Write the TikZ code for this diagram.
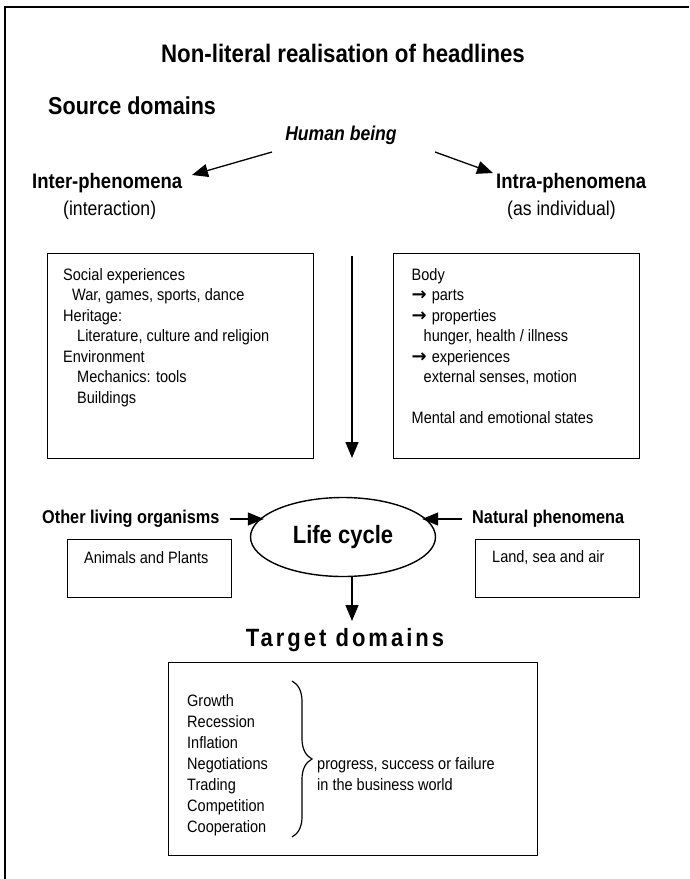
\documentclass[tikz,border=0pt]{standalone}
\usepackage{fontspec}
\setmainfont{Liberation Sans}[FakeStretch=0.88]
\newfontfamily\arrowfont{DejaVu Sans}
\newfontfamily\spacedfont{Liberation Sans}[FakeStretch=0.88,LetterSpace=12]
\usetikzlibrary{arrows.meta,shapes.geometric,decorations.pathreplacing,positioning}

\newcommand{\fsize}[2]{\fontsize{#1}{#2}\selectfont}
\newcommand{\ra}{{\arrowfont\bfseries\fontsize{18}{20.5}\selectfont →}\hspace{5pt}}

\tikzset{
frame/.style={line width=2pt},
box/.style={draw,line width=1.4pt,rectangle,inner sep=0pt},
boxtext/.style={inner sep=0pt,align=left,font=\fsize{16.5}{20.5}},
heading/.style={inner sep=0pt,font=\bfseries\fsize{21}{24}},
sublabel/.style={inner sep=0pt,font=\fsize{20}{24}},
flow/.style={line width=1.3pt,-{Triangle[length=16pt,width=13pt]}}
}

\begin{document}
\begin{tikzpicture}[x=1pt,y=-1pt]
    \useasboundingbox (0,0) rectangle (689,879);
    \draw[frame] (5,879) -- (5,7) -- (689,7);

    % headings
    \node[inner sep=0pt,font=\bfseries\fsize{25.3}{28}] (title) at (343,53) {Non-literal realisation of headlines};
    \node[heading,font=\bfseries\fsize{24.5}{28},anchor=west] (source) at (48,105.5) {Source domains};
    \node[heading,font=\bfseries\itshape\fsize{20}{24}] (human) at (341,135) {Human being};
    \node[heading,anchor=west] (inter) at (32,183) {Inter-phenomena};
    \node[sublabel,anchor=west] (interaction) at (63,210) {(interaction)};
    \node[heading,anchor=west] (intra) at (496,183) {Intra-phenomena};
    \node[sublabel,anchor=west] (individual) at (507,210) {(as individual)};

    \coordinate (humanL) at (272,152);
    \coordinate (interR) at (192,175);
    \coordinate (humanR) at (435,152);
    \coordinate (intraL) at (493,173);
    \draw[flow] (humanL) -- (interR);
    \draw[flow] (humanR) -- (intraL);

    % source boxes
    \node[box,minimum width=266pt,minimum height=205pt,anchor=north west] (socbox) at (47,253) {};
    \node[boxtext,anchor=north west] (soctext) at ([shift={(16,15)}]socbox.north west)
        {Social experiences\\
         \hspace*{9pt}War, games, sports, dance\\
         Heritage:\\
         \hspace*{14pt}Literature, culture and religion\\
         Environment\\
         \hspace*{14pt}Mechanics: tools\\
         \hspace*{14pt}Buildings};
    \node[box,minimum width=246pt,minimum height=205pt,anchor=north west] (bodybox) at (393,253) {};
    \node[boxtext,anchor=north west] (bodytext) at ([shift={(18.5,15)}]bodybox.north west)
        {Body\\
         \ra parts\\
         \ra properties\\
         \hspace*{12pt}hunger, health / illness\\
         \ra experiences\\
         \hspace*{12pt}external senses, motion\\[20.5pt]
         Mental and emotional states};

    \coordinate (flowtop) at (352,256);
    \coordinate (flowbot) at (352,458);
    \draw[flow] (flowtop) -- (flowbot);

    % life cycle
    \node[draw,ellipse,line width=1.4pt,minimum width=185pt,minimum height=79pt,inner sep=0pt,
          font=\bfseries\fsize{25}{28}] (life) at (343,537) {Life cycle};
    \node[heading,font=\bfseries\fsize{18.5}{22},anchor=west] (other) at (42,519) {Other living organisms};
    \node[heading,font=\bfseries\fsize{18.5}{22},anchor=west] (natural) at (472,519) {Natural phenomena};
    \draw[flow] ([xshift=10pt]other.east) -- (life.165 |- other.east);
    \draw[flow] ([xshift=-10pt]natural.west) -- (life.15 |- natural.west);

    \node[box,minimum width=164pt,minimum height=58pt,anchor=north west] (animbox) at (67,539) {};
    \node[boxtext,anchor=west] (animtext) at (84,558) {Animals and Plants};
    \node[box,minimum width=164pt,minimum height=58pt,anchor=north west] (landbox) at (475,539) {};
    \node[boxtext,anchor=west] (landtext) at (492,558) {Land, sea and air};

    % target
    \draw[flow] (life.south -| flowtop) -- (352,621);
    \node[inner sep=0pt,font=\spacedfont\bfseries\fsize{25}{28}] (target) at (345,640) {Target domains};
    \node[box,minimum width=369pt,minimum height=193pt,anchor=north west] (targetbox) at (168,662) {};
    \node[boxtext,font=\fsize{16.5}{21},anchor=north west] (items) at ([shift={(19,32.5)}]targetbox.north west)
        {Growth\\ Recession\\ Inflation\\ Negotiations\\ Trading\\ Competition\\ Cooperation};
    \draw[line width=1.2pt,decorate,decoration={brace,amplitude=20pt}] (292,681) -- (292,837);
    \node[boxtext,font=\fsize{16.5}{21},anchor=north west] (business) at (317,757.5)
        {progress, success or failure\\ in the business world};
\end{tikzpicture}
\end{document}
